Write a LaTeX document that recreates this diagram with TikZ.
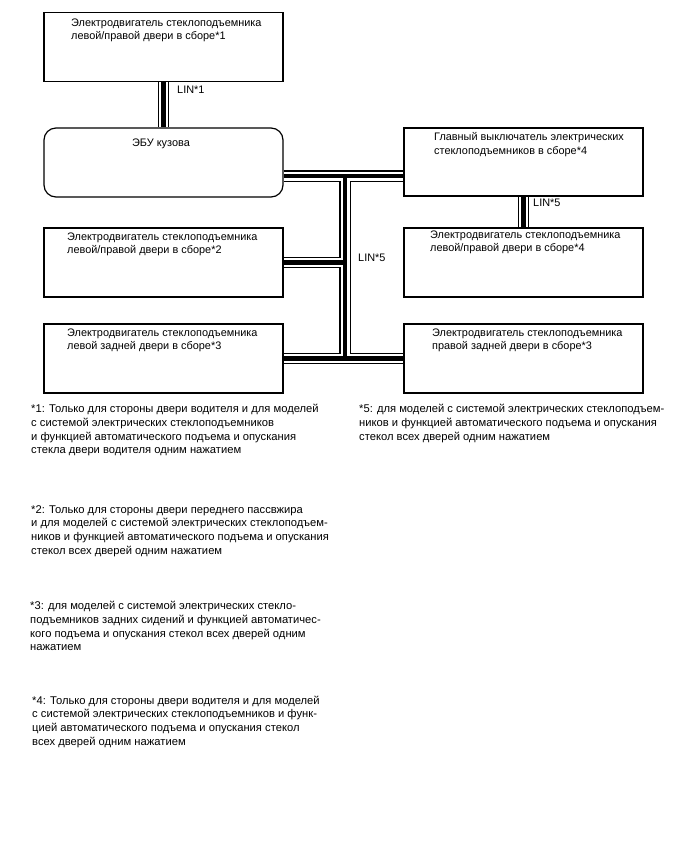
\documentclass[tikz,border=0pt]{standalone}
\usepackage{fontspec}
\setmainfont{Liberation Sans}
\pgfdeclarelayer{bg}
\pgfsetlayers{bg,main}
\tikzset{
  box/.style={draw, line width=1.2pt, minimum width=239pt, minimum height=69pt, inner sep=0pt},
  ecubox/.style={box, rounded corners=12pt},
  txt/.style={anchor=north west, inner sep=0pt, align=left, font=\fontsize{10.9}{13.5}\selectfont},
  fn/.style={anchor=north west, inner sep=0pt, align=left, font=\fontsize{11.2}{13.8}\selectfont},
  lbl/.style={anchor=west, inner sep=0pt, font=\fontsize{10.9}{13.5}\selectfont},
}
\begin{document}
\begin{tikzpicture}[x=1pt, y=-1pt]
\useasboundingbox (0,0) rectangle (688,852);
% boxes
\node[box] (b1) at (163.5,47) {};
\node[ecubox] (ecu) at (163.5,162.5) {};
\node[box, minimum height=68pt] (msw) at (523.5,162) {};
\node[box] (b2) at (163.5,262.5) {};
\node[box] (b4) at (523.5,262.5) {};
\node[box] (lr) at (163.5,358.5) {};
\node[box] (rr) at (523.5,358.5) {};
% box texts
\node[txt] (t1) at (71,18.5) {Электродвигатель стеклоподъемника\\левой/правой двери в сборе*1};
\node[font=\fontsize{10.9}{13.5}\selectfont, inner sep=0pt] (tecu) at (161,144) {ЭБУ кузова};
\node[txt] (tmsw) at (434,132.5) {Главный выключатель электрических\\стеклоподъемников в сборе*4};
\node[txt] (t2) at (67,232.5) {Электродвигатель стеклоподъемника\\левой/правой двери в сборе*2};
\node[txt] (t4) at (430,230.5) {Электродвигатель стеклоподъемника\\левой/правой двери в сборе*4};
\node[txt] (tlr) at (67,328.5) {Электродвигатель стеклоподъемника\\левой задней двери в сборе*3};
\node[txt] (trr) at (432,328.5) {Электродвигатель стеклоподъемника\\правой задней двери в сборе*3};
% bus labels
\node[lbl] (lin1) at (177,90) {LIN*1};
\node[lbl] (lin5a) at (533,203) {LIN*5};
\node[lbl] (lin5b) at (358,258) {LIN*5};
% junctions
\coordinate (j1) at (345,176);
\coordinate (j2) at (345,262.5);
\coordinate (j3) at (345,358.5);
% buses
\begin{pgfonlayer}{bg}
\foreach \w/\c in {11.5/black, 9/white, 4.5/black}{
  \draw[line width=\w pt, \c]
    (b1.south) -- (ecu.north)
    (ecu.east |- j1) -- (msw.west |- j1)
    (j1) -- (j3)
    (b2.east) -- (j2)
    (lr.east) -- (rr.west)
    (msw.south) -- (b4.north);
}
\end{pgfonlayer}
% footnotes
\node[fn] (f1) at (31,404) {*1: Только для стороны двери водителя и для моделей\\с системой электрических стеклоподъемников\\и функцией автоматического подъема и опускания\\стекла двери водителя одним нажатием};
\node[fn] (f2) at (31,505) {*2: Только для стороны двери переднего пассвжира\\и для моделей с системой электрических стеклоподъем-\\ников и функцией автоматического подъема и опускания\\стекол всех дверей одним нажатием};
\node[fn] (f3) at (30,601) {*3: для моделей с системой электрических стекло-\\подъемников задних сидений и функцией автоматичес-\\кого подъема и опускания стекол всех дверей одним\\нажатием};
\node[fn] (f4) at (32,695.5) {*4: Только для стороны двери водителя и для моделей\\с системой электрических стеклоподъемников и функ-\\цией автоматического подъема и опускания стекол\\всех дверей одним нажатием};
\node[fn] (f5) at (359,404) {*5: для моделей с системой электрических стеклоподъем-\\ников и функцией автоматического подъема и опускания\\стекол всех дверей одним нажатием};
\end{tikzpicture}
\end{document}
